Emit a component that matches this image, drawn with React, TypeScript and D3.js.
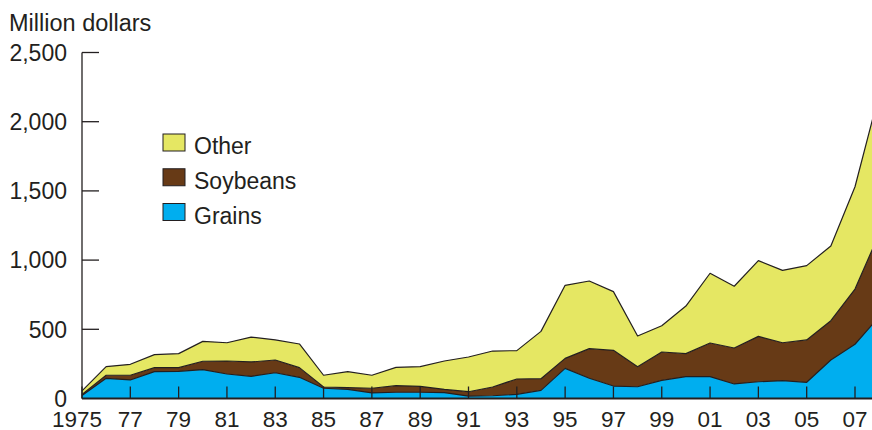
import React from "react";
import * as d3 from "d3";

const years = [1975,1976,1977,1978,1979,1980,1981,1982,1983,1984,1985,1986,1987,1988,1989,1990,1991,1992,1993,1994,1995,1996,1997,1998,1999,2000,2001,2002,2003,2004,2005,2006,2007,2008];
const grains = [22,146,134,194,196,208,177,160,186,153,74,66,40,45,45,42,17,20,30,59,218,146,90,85,131,158,158,105,121,129,117,278,392,590];
const soybeans = [8,22,34,29,27,61,94,104,92,70,9,12,34,48,43,24,32,63,111,84,72,214,258,145,205,166,243,260,328,274,306,284,399,600];
const other = [25,62,79,94,101,144,132,180,145,171,85,116,94,132,142,205,251,260,205,342,528,489,424,222,190,344,504,446,547,523,537,540,739,1010];

const seriesKeys = ["grains", "soybeans", "other"];
const seriesColors: Record<string, string> = { grains: "#00AEEF", soybeans: "#673A16", other: "#E5E763" };
const legendItems = [
  { key: "other", label: "Other" },
  { key: "soybeans", label: "Soybeans" },
  { key: "grains", label: "Grains" },
];
const yTicks = [0, 500, 1000, 1500, 2000, 2500];
const xTicks = [1975,1977,1979,1981,1983,1985,1987,1989,1991,1993,1995,1997,1999,2001,2003,2005,2007];
const xTickLabel = (y: number) => (y === 1975 ? "1975" : String(y).slice(2));

const FONT = "'Liberation Sans', Arial, Helvetica, sans-serif";

export default function App() {
  const W = 872, H = 430;
  const x = d3.scaleLinear().domain([1975, 2007]).range([82, 855]);
  const y = d3.scaleLinear().domain([0, 2500]).range([398.5, 52.5]);

  const table = years.map((yr, i) => ({ year: yr, grains: grains[i], soybeans: soybeans[i], other: other[i] }));
  const stack = d3.stack<any>().keys(seriesKeys);
  const layers = stack(table);
  const area = d3.area<any>().x((d) => x(d.data.year)).y0((d) => y(d[0])).y1((d) => y(d[1]));
  const line = d3.line<any>().x((d) => x(d.data.year)).y((d) => y(d[1]));

  return (
    <svg width={W} height={H} style={{ position: "absolute", left: 0, top: 0, background: "#fff" }} fontFamily={FONT}>
      {layers.map((l) => (
        <path key={l.key} d={area(l) || ""} fill={seriesColors[l.key]} stroke="none" />
      ))}
      {layers.map((l) => (
        <path key={"ln" + l.key} d={line(l) || ""} fill="none" stroke="#231f20" strokeWidth={1.2} strokeLinejoin="round" />
      ))}
      {/* y axis */}
      <line x1={82} x2={82} y1={y(2500)} y2={y(0)} stroke="#231f20" strokeWidth={1.3} />
      {yTicks.map((t) => (
        <g key={t}>
          {t > 0 && <line x1={82} x2={99} y1={y(t)} y2={y(t)} stroke="#231f20" strokeWidth={1.3} />}
          <text x={67} y={y(t)} dy="0.36em" textAnchor="end" fontSize={23} fill="#231f20">
            {d3.format(",")(t)}
          </text>
        </g>
      ))}
      {/* x axis */}
      <line x1={82} x2={W} y1={y(0)} y2={y(0)} stroke="#231f20" strokeWidth={1.8} />
      {xTicks.map((t) => (
        <g key={t}>
          <line x1={x(t)} x2={x(t)} y1={y(0)} y2={y(0) - 12} stroke="#231f20" strokeWidth={1.3} />
          <text x={x(t) - (t === 1975 ? 5 : 0)} y={427} textAnchor="middle" fontSize={22.5} fill="#231f20">
            {xTickLabel(t)}
          </text>
        </g>
      ))}
      <text x={9} y={30.5} fontSize={23.5} fill="#231f20">Million dollars</text>
      {legendItems.map((it, i) => (
        <g key={it.key} transform={`translate(163, ${134 + i * 34.75})`}>
          <rect x={0} y={0} width={22} height={17} fill={seriesColors[it.key]} stroke="#231f20" strokeWidth={1} />
          <text x={31} y={20} fontSize={23} fill="#231f20">{it.label}</text>
        </g>
      ))}
    </svg>
  );
}
